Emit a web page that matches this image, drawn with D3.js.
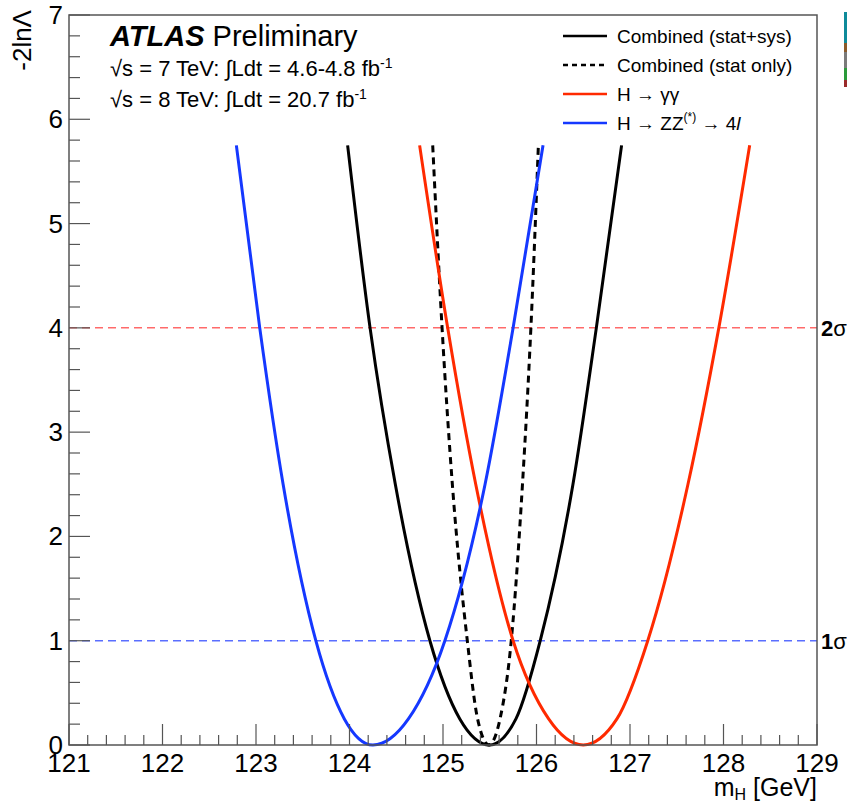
<!DOCTYPE html>
<html>
<head>
<meta charset="utf-8">
<script src="https://cdn.jsdelivr.net/npm/d3@7"></script>
<style>
  body { margin: 0; background: #fff; }
  text { font-family: "Liberation Sans", Arial, Helvetica, sans-serif; fill: #000; }
</style>
</head>
<body>
<div id="chart"></div>
<script>
const nllLevels = [5.75, 4, 2.5, 1, 0.25, 0, 0.25, 1, 2.5, 4, 5.75]

// mH [GeV] for each level
const combinedMH = [123.98, 124.22, 124.49, 124.86, 125.18, 125.50, 125.78, 126.04, 126.39, 126.64, 126.91]
const statOnlyMH = [124.89, 124.99, 125.10, 125.26, 125.37, 125.49, 125.61, 125.73, 125.85, 125.94, 126.02]
const gamgamMH = [124.75, 125.05, 125.35, 125.75, 126.13, 126.50, 126.86, 127.19, 127.62, 127.95, 128.28]
const zz4lMH = [122.79, 123.04, 123.29, 123.64, 123.945, 124.25, 124.63, 125.02, 125.45, 125.75, 126.07]

const sigmaLevels = [1, 4]
const sigmaLabels = ['1', '2']
const xDomain = [121, 129]
const yDomain = [0, 7]

const width = 847
const height = 804
const margin = { top: 15, right: 30, bottom: 59, left: 69 }

const red = '#ff2a00'
const blue = '#1538ff'

const svg = d3.select('#chart').append('svg')
  .attr('width', width)
  .attr('height', height)

const x = d3.scaleLinear().domain(xDomain).range([margin.left, width - margin.right])
const y = d3.scaleLinear().domain(yDomain).range([height - margin.bottom, margin.top])

let series = [
  { name: 'Combined (stat+sys)', mh: combinedMH, color: '#000', dash: null },
  { name: 'Combined (stat only)', mh: statOnlyMH, color: '#000', dash: '7,5' },
  { name: 'gamgam', mh: gamgamMH, color: red, dash: null },
  { name: 'zz', mh: zz4lMH, color: blue, dash: null }
]

// sigma reference lines
const sigmaColors = ['#5a6eff', '#ff6a6a']
svg.append('g').selectAll('line')
  .data(sigmaLevels)
  .join('line')
  .attr('x1', x(xDomain[0]))
  .attr('x2', x(xDomain[1]))
  .attr('y1', d => y(d))
  .attr('y2', d => y(d))
  .attr('stroke', (d, i) => sigmaColors[i])
  .attr('stroke-width', 1.5)
  .attr('stroke-dasharray', '8,5')

// curves
let line = d3.line()
  .x(d => x(d[0]))
  .y(d => y(d[1]))
  .curve(d3.curveMonotoneX)

svg.append('g').selectAll('path')
  .data(series)
  .join('path')
  .attr('d', s => line(s.mh.map((m, i) => [m, nllLevels[i]])))
  .attr('fill', 'none')
  .attr('stroke', s => s.color)
  .attr('stroke-width', 3)
  .attr('stroke-dasharray', s => s.dash)

// frame + ticks, ROOT style (ticks inside)
const axisColor = '#555'
const frame = svg.append('g')
frame.append('rect')
  .attr('x', x(xDomain[0]))
  .attr('y', y(yDomain[1]))
  .attr('width', x(xDomain[1]) - x(xDomain[0]))
  .attr('height', y(yDomain[0]) - y(yDomain[1]))
  .attr('fill', 'none')
  .attr('stroke', axisColor)
  .attr('stroke-width', 1.5)

let xMinor = d3.range(xDomain[0] * 5, xDomain[1] * 5 + 1).map(v => v / 5)
frame.append('g').selectAll('line')
  .data(xMinor)
  .join('line')
  .attr('x1', d => x(d))
  .attr('x2', d => x(d))
  .attr('y1', y(0))
  .attr('y2', d => y(0) - (Math.abs(d - Math.round(d)) < 1e-6 ? 21 : 10))
  .attr('stroke', axisColor)
  .attr('stroke-width', 1.2)

let yMinor = d3.range(yDomain[0] * 5, yDomain[1] * 5 + 1).map(v => v / 5)
frame.append('g').selectAll('line')
  .data(yMinor)
  .join('line')
  .attr('y1', d => y(d))
  .attr('y2', d => y(d))
  .attr('x1', x(xDomain[0]))
  .attr('x2', d => x(xDomain[0]) + (Math.abs(d - Math.round(d)) < 1e-6 ? 21 : 11))
  .attr('stroke', axisColor)
  .attr('stroke-width', 1.2)

// tick labels
svg.append('g').selectAll('text')
  .data(x.ticks(8))
  .join('text')
  .attr('x', d => x(d))
  .attr('y', y(0) + 27)
  .attr('text-anchor', 'middle')
  .attr('font-size', 26)
  .text(d => d)

svg.append('g').selectAll('text')
  .data(y.ticks(7))
  .join('text')
  .attr('x', x(xDomain[0]) - 6)
  .attr('y', d => y(d) + 9)
  .attr('text-anchor', 'end')
  .attr('font-size', 26)
  .text(d => d)

// axis titles
let xt = svg.append('text')
  .attr('x', x(xDomain[1]))
  .attr('y', 796)
  .attr('text-anchor', 'end')
  .attr('font-size', 25)
xt.append('tspan').text('m')
xt.append('tspan').attr('font-size', 16).attr('dy', 4).text('H')
xt.append('tspan').attr('dy', -4).text(' [GeV]')

svg.append('text')
  .attr('transform', 'translate(31,10) rotate(-90)')
  .attr('text-anchor', 'end')
  .attr('font-size', 26)
  .text('-2lnΛ')

// sigma labels on the right
let sl = svg.append('g').selectAll('text')
  .data(sigmaLevels)
  .join('text')
  .attr('x', x(xDomain[1]) + 4)
  .attr('y', d => y(d) + 8)
  .attr('font-size', 22)
sl.append('tspan').attr('font-weight', 'bold').text((d, i) => sigmaLabels[i])
sl.append('tspan').text('σ')

// ATLAS label
let atl = svg.append('text').attr('x', 110).attr('y', 46).attr('font-size', 29)
atl.append('tspan').attr('font-weight', 'bold').attr('font-style', 'italic').text('ATLAS')
atl.append('tspan').text(' Preliminary')

const lumiLines = [['7', '4.6-4.8'], ['8', '20.7']]
svg.append('g').selectAll('text')
  .data(lumiLines)
  .join('text')
  .attr('x', 110)
  .attr('y', (d, i) => 76 + i * 31)
  .attr('font-size', 22)
  .each(function (d) {
    let t = d3.select(this)
    t.append('tspan').text('√s = ' + d[0] + ' TeV: ∫Ldt = ' + d[1] + ' fb')
    t.append('tspan').attr('font-size', 14).attr('dy', -8).text('-1')
  })

// legend
let leg = svg.append('g').selectAll('g')
  .data(series)
  .join('g')
  .attr('transform', (d, i) => `translate(563, ${36 + i * 29})`)
leg.append('line')
  .attr('x1', 0).attr('x2', 44)
  .attr('stroke', d => d.color)
  .attr('stroke-width', 2.5)
  .attr('stroke-dasharray', d => d.dash ? '5,4' : null)
leg.append('text')
  .attr('x', 54)
  .attr('y', 7)
  .attr('font-size', 19)
  .each(function (d) {
    let t = d3.select(this)
    if (d.name === 'gamgam') {
      t.text('H → γγ')
    } else if (d.name === 'zz') {
      t.append('tspan').text('H → ZZ')
      t.append('tspan').attr('font-size', 12).attr('dy', -9).text('(*)')
      t.append('tspan').attr('dy', 9).text(' → 4')
      t.append('tspan').attr('font-style', 'italic').text('l')
    } else {
      t.text(d.name)
    }
  })

// stray palette strip at the right edge
const stripColors = ['#0e8a9a', '#8a5a2a', '#7a7a7a', '#2a9a3a', '#9a2a2a']
const stripStops = [12, 43, 52, 68, 80, 87]
svg.append('g').selectAll('rect')
  .data(stripColors)
  .join('rect')
  .attr('x', 844)
  .attr('width', 3)
  .attr('y', (d, i) => stripStops[i])
  .attr('height', (d, i) => stripStops[i + 1] - stripStops[i])
  .attr('fill', d => d)
</script>
</body>
</html>
